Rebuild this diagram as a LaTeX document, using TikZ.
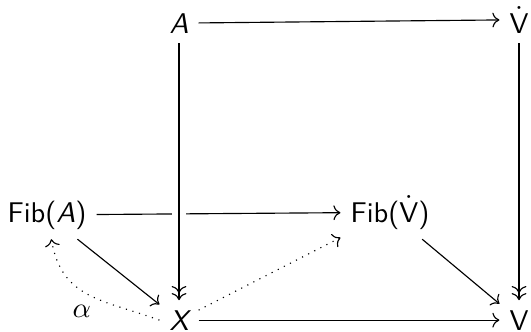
\documentclass[tikz,border=0pt]{standalone}
\usepackage{fontspec}
\usetikzlibrary{arrows.meta}

\begin{document}
\begin{tikzpicture}[x=0.351pt,y=-0.351pt,
  >={Computer Modern Rightarrow},
  obj/.style={anchor=base,font=\sffamily},
  map/.style={->},
  epi/.style={->>},
  lift/.style={->,dotted}]
  \useasboundingbox (0,0) rectangle (531,331);
  % objects
  \node[obj] (A) at (179,33) {\itshape A};
  \node[obj] (Vdot) at (519,33) {$\dot{\mathsf{V}}$};
  \node[obj] (FibA) at (47,222) {Fib(\textit{A})};
  \node[obj] (FibV) at (390,222) {Fib($\dot{\mathsf{V}}$)};
  \node[obj] (X) at (179,330) {\itshape X};
  \node[obj] (V) at (519,330) {V};
  % maps
  \draw[map] (A) -- (Vdot);
  \draw[map] (FibA) -- (FibV);
  \draw[epi,preaction={draw=white,line width=5pt,-}] (A) -- (X);
  \draw[epi] (Vdot) -- (V);
  \draw[map] (FibA) -- (X);
  \draw[map] (FibV) -- (V);
  \draw[map] (X) -- (V);
  % lifts
  \draw[lift] (X) -- (FibV);
  \draw[lift] (X.west) to[out=160,in=-80,looseness=1.15] node[pos=0.42,below left,inner sep=2pt] {$\alpha$} (FibA);
\end{tikzpicture}
\end{document}
